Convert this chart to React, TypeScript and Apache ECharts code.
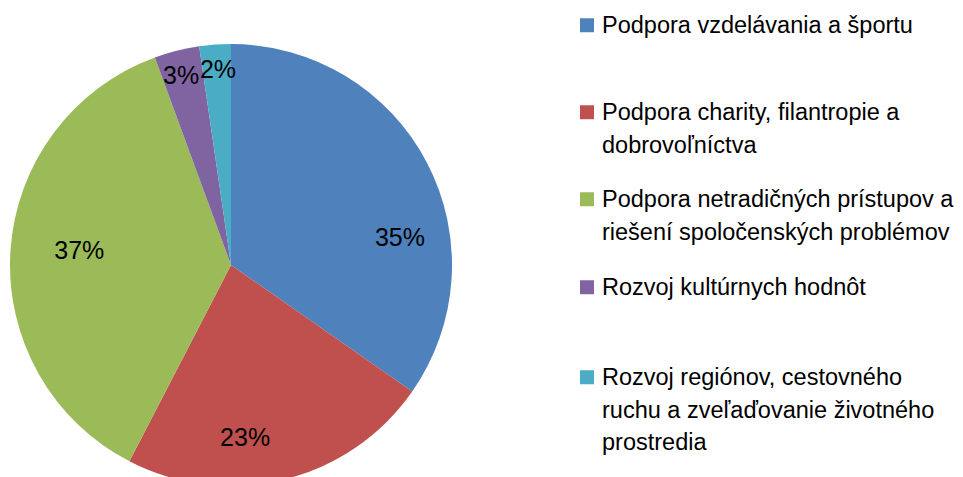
import React, { useEffect, useRef } from "react";
import * as echarts from "echarts";

const categories = [
  "Podpora vzdelávania a športu",
  "Podpora charity, filantropie a dobrovoľníctva",
  "Podpora netradičných prístupov a riešení spoločenských problémov",
  "Rozvoj kultúrnych hodnôt",
  "Rozvoj regiónov, cestovného ruchu a zveľaďovanie životného prostredia",
];
const values = [34.7, 22.9, 36.8, 3.3, 2.3];
const legendLines = [
  ["Podpora vzdelávania a športu"],
  ["Podpora charity, filantropie a", "dobrovoľníctva"],
  ["Podpora netradičných prístupov a", "riešení spoločenských problémov"],
  ["Rozvoj kultúrnych hodnôt"],
  ["Rozvoj regiónov, cestovného", "ruchu a zveľaďovanie životného", "prostredia"],
];
const colors = ["#4F81BD", "#C0504D", "#9BBB59", "#8064A2", "#4BACC6"];

const FONT = "'Liberation Sans Narrow', 'Arial Narrow', 'Liberation Sans', Arial, sans-serif";
const CX = 231;
const CY = 265;
const R = 221;
const LINE_H = 32.5;
const legendTops = [4, 91, 178, 266, 356];
const labelAngles = [80.6, 175.3, 275.6, 345.3, 356.2];
const labelRadii = [0.775, 0.78, 0.69, 0.89, 0.89];

export default function App() {
  const ref = useRef<HTMLDivElement>(null);
  useEffect(() => {
    document.body.style.margin = "0";
    if (!ref.current) return;
    const chart = echarts.init(ref.current, null, { renderer: "svg" });
    const legends = categories.map((name, i) => {
      const n = legendLines[i].length;
      const h = n * LINE_H;
      const sq = (LINE_H - 14) / 2;
      return {
        orient: "vertical",
        left: 575,
        top: legendTops[i],
        data: [name],
        itemWidth: 14,
        itemHeight: n === 1 ? 14 : h,
        icon: n === 1 ? "rect" : `path://M0,0 M14,${h} M0,${sq}h14v14h-14z`,
        selectedMode: false,
        formatter: () => legendLines[i].join("\n"),
        textStyle: {
          fontFamily: FONT,
          fontSize: 23.5,
          color: "#000",
          lineHeight: LINE_H,
          padding: [0, 0, 0, 3],
        },
      };
    });
    chart.setOption({
      animation: false,
      color: colors,
      legend: legends,
      series: [
        {
          type: "pie",
          center: [CX, CY],
          radius: R,
          startAngle: 90,
          clockwise: true,
          avoidLabelOverlap: false,
          silent: true,
          itemStyle: { borderWidth: 0 },
          label: {
            show: true,
            position: "inside",
            formatter: (p: any) => Math.round(p.percent) + "%",
            fontFamily: FONT,
            fontSize: 25,
            color: "#000",
          },
          labelLine: { show: false },
          labelLayout: (params: any) => {
            const i = params.dataIndex;
            const a = (labelAngles[i] * Math.PI) / 180;
            const r = R * labelRadii[i];
            return {
              x: CX + r * Math.sin(a),
              y: CY - r * Math.cos(a),
              align: "center",
              verticalAlign: "middle",
            };
          },
          data: categories.map((name, i) => ({ name, value: values[i] })),
        },
      ],
    });
    return () => chart.dispose();
  }, []);
  return <div ref={ref} style={{ width: 963, height: 477 }} />;
}
